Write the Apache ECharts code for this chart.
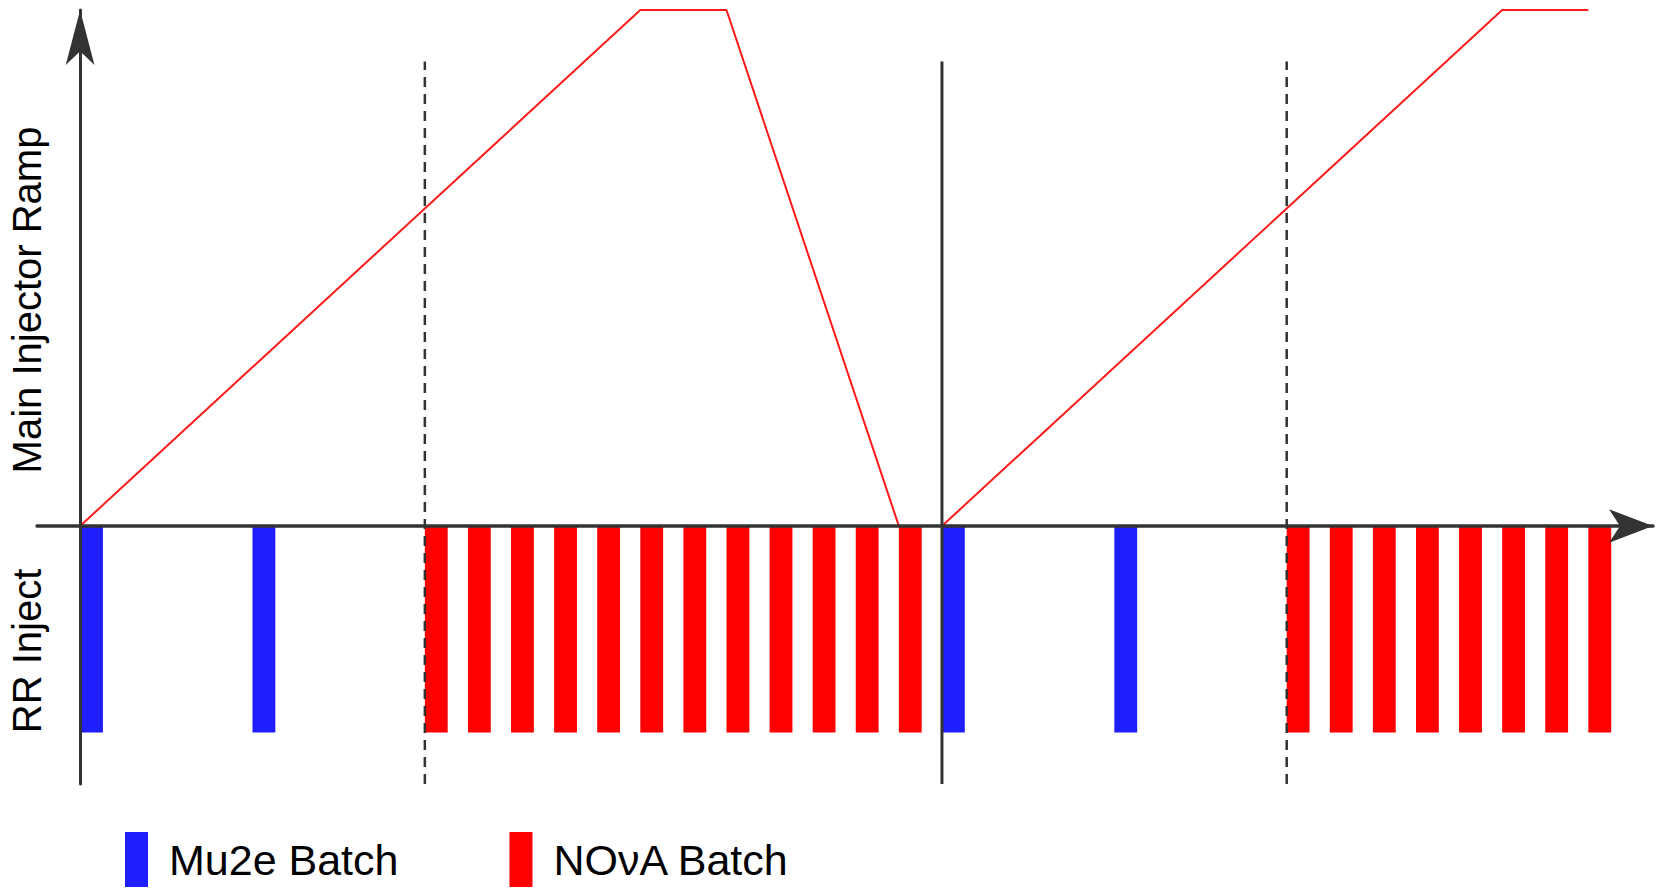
<!DOCTYPE html>
<html>
<head>
<meta charset="utf-8">
<script src="https://cdn.jsdelivr.net/npm/echarts@6/dist/echarts.min.js"></script>
<style>
html,body{margin:0;padding:0;background:#fff;}
#chart{width:1661px;height:888px;}
</style>
</head>
<body>
<div id="chart"></div>
<script>
// ---- data (time in batch slots, ramp level normalised to 1) ----
const mu2eSlots = [0, 4, 20, 24];
const novaSlots = [8, 9, 10, 11, 12, 13, 14, 15, 16, 17, 18, 19, 28, 29, 30, 31, 32, 33, 34, 35];
const batchLevel = -0.4;
const rampX1 = [0, 13, 15, 19];
const rampY1 = [0, 1, 1, 0];
const rampX2 = [20, 33, 35];
const rampY2 = [0, 1, 1];
const cycleStart = [20];
const rampStartMarks = [8, 28];
const markRange = [-0.5, 0.9];
const seriesNames = ['Mu2e Batch', 'NO\u03BDA Batch'];
const axisLabels = ['Main Injector Ramp', 'RR Inject'];

const BAR_W = 0.53;
const FONT = '"Liberation Sans", Arial, Helvetica, sans-serif';

function barData(slots) { return slots.map(s => [s, batchLevel]); }
function pairs(xs, ys) { return xs.map((x, i) => [x, ys[i]]); }

function renderBar(params, api) {
  const x = api.value(0);
  const p0 = api.coord([x, 0]);
  const p1 = api.coord([x + BAR_W, api.value(1)]);
  return {
    type: 'rect',
    shape: { x: p0[0], y: p0[1], width: p1[0] - p0[0], height: p1[1] - p0[1] },
    style: { fill: api.visual('color') }
  };
}

const vLines = [];
cycleStart.forEach(x => vLines.push({
  type: 'line', data: [[x, markRange[0]], [x, markRange[1]]], symbol: 'none', silent: true, z: 6,
  lineStyle: { color: '#333', width: 3 }
}));
rampStartMarks.forEach(x => vLines.push({
  type: 'line', data: [[x, markRange[0]], [x, markRange[1]]], symbol: 'none', silent: true, z: 6,
  lineStyle: { color: '#333', width: 2.5, type: [10, 7] }
}));

const chart = echarts.init(document.getElementById('chart'), null, { renderer: 'svg' });
chart.setOption({
  animation: false,
  backgroundColor: '#fff',
  grid: { left: 37, right: 8, top: 10, bottom: 104, containLabel: false },
  xAxis: {
    type: 'value', min: -1, max: 36.5, z: 10,
    axisLine: { show: true, onZero: true, symbol: ['none', 'arrow'], symbolSize: [25, 44], symbolOffset: [0, 0],
      lineStyle: { color: '#333', width: 3.5 } },
    axisTick: { show: false }, axisLabel: { show: false }, splitLine: { show: false }
  },
  yAxis: {
    type: 'value', min: -0.5, max: 1, z: 10,
    axisLine: { show: true, onZero: true, symbol: ['none', 'arrow'], symbolSize: [21.5, 55], symbolOffset: [0, 0],
      lineStyle: { color: '#333', width: 3 } },
    axisTick: { show: false }, axisLabel: { show: false }, splitLine: { show: false }
  },
  legend: {
    data: seriesNames,
    left: 125, top: 832, padding: 0,
    icon: 'rect', itemWidth: 23, itemHeight: 55, itemGap: 111,
    textStyle: { fontFamily: FONT, fontSize: 43, color: '#000', padding: [0, 0, 0, 16] }
  },
  graphic: [
    { type: 'text', x: 27, y: 300, rotation: Math.PI / 2,
      style: { text: axisLabels[0], font: '40px ' + FONT, fill: '#000', textAlign: 'center', textVerticalAlign: 'middle' } },
    { type: 'text', x: 27, y: 651, rotation: Math.PI / 2,
      style: { text: axisLabels[1], font: '40px ' + FONT, fill: '#000', textAlign: 'center', textVerticalAlign: 'middle' } }
  ],
  series: [
    { name: seriesNames[0], type: 'custom', renderItem: renderBar, data: barData(mu2eSlots),
      encode: { x: 0, y: 1 }, itemStyle: { color: '#1e1eff' }, z: 3 },
    { name: seriesNames[1], type: 'custom', renderItem: renderBar, data: barData(novaSlots),
      encode: { x: 0, y: 1 }, itemStyle: { color: '#ff0000' }, z: 3 },
    { type: 'line', data: pairs(rampX1, rampY1), symbol: 'none', clip: false, silent: true, z: 5,
      lineStyle: { color: '#ff1a1a', width: 2 } },
    { type: 'line', data: pairs(rampX2, rampY2), symbol: 'none', clip: false, silent: true, z: 5,
      lineStyle: { color: '#ff1a1a', width: 2 } },
    ...vLines
  ]
});
</script>
</body>
</html>
